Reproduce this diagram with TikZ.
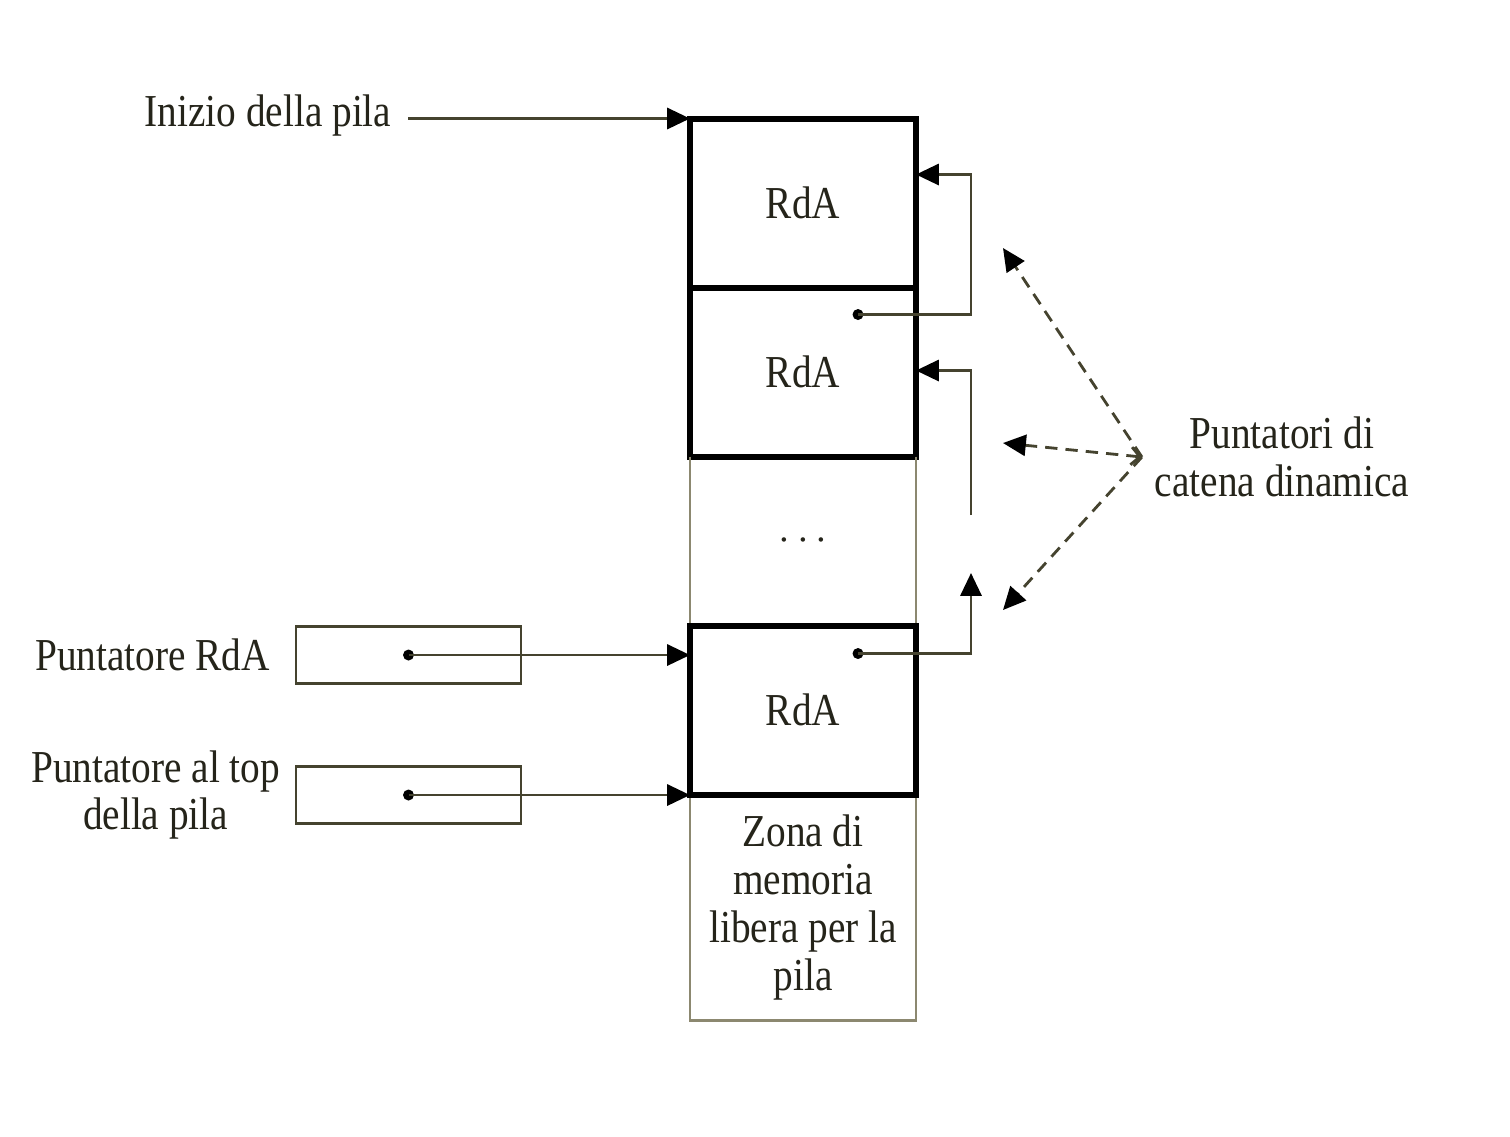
\documentclass[tikz,border=0pt]{standalone}
\usepackage{fontspec}
\setmainfont{Liberation Serif}[FakeStretch=0.86]
\usetikzlibrary{positioning,arrows.meta}
\definecolor{inkcol}{HTML}{25241A}
\definecolor{framecol}{HTML}{8C8870}
\definecolor{linecol}{HTML}{45432F}
\tikzset{
    every node/.style={font=\fontsize{13}{13.6}\selectfont, text=inkcol, outer sep=0pt},
    rda/.style={draw=black, line width=1.7pt, minimum width=2.26cm, minimum height=1.69cm, inner sep=0pt},
    zone/.style={minimum width=2.26cm, inner sep=0pt, align=center},
    frame/.style={draw=framecol, line width=0.8pt},
    ptrbox/.style={draw=linecol, line width=0.75pt, minimum width=2.25cm, minimum height=0.57cm, inner sep=0pt},
    lbl/.style={inner sep=0pt, align=center},
    tip/.style={-{Triangle[length=6.5pt, width=6pt, color=black]}},
    ptr/.style={draw=linecol, line width=0.8pt, tip},
    dyn/.style={ptr, dash pattern=on 3.5pt off 2.3pt},
    dot/.style={fill=black}
}
\begin{document}
\begin{tikzpicture}
    \useasboundingbox[fill=white] (0,0) rectangle (15.1,-11.36);
    \node[rda] (rda1) at (8.03,-2.03) {RdA};
    \node[rda, below=0pt of rda1] (rda2) {RdA};
    \node[zone, minimum height=1.69cm, below=0pt of rda2] (gap) {$\cdots$};
    \node[rda, below=0pt of gap] (rda3) {RdA};
    \node[zone, minimum height=2.26cm, below=0pt of rda3] (free) {Zona di\\memoria\\libera per la\\pila};
    \draw[frame] (rda2.south west) -- (rda3.north west);
    \draw[frame] (rda2.south east) -- (rda3.north east);
    \draw[frame] (rda3.south west) -- (free.south west) -- (free.south east) -- (rda3.south east);
    \draw[line width=1.7pt] (rda1.north west) rectangle (rda1.south east);
    \draw[line width=1.7pt] (rda3.north west) rectangle (rda3.south east);

    \node[lbl] (inizio) at (2.68,-1.15) {Inizio della pila};
    \draw[ptr] ([xshift=0.17cm]inizio.east |- rda1.north west) -- (rda1.north west);

    \node[ptrbox] (prA) at (4.085,-6.55) {};
    \node[ptrbox] (prTop) at (4.085,-7.95) {};
    \node[lbl, left=0.26cm of prA] (lprA) {Puntatore RdA};
    \node[lbl, left=0.16cm of prTop] (lprTop) {Puntatore al top\\della pila};
    \fill[dot] (prA.center) circle (0.055);
    \fill[dot] (prTop.center) circle (0.055);
    \draw[ptr] (prA.center) -- (prA.center -| rda3.west);
    \draw[ptr] (prTop.center) -- (prTop.center -| rda3.south west);

    \coordinate (d2) at ([xshift=-0.58cm, yshift=-0.27cm]rda2.north east);
    \coordinate (d3) at ([xshift=-0.58cm, yshift=-0.28cm]rda3.north east);
    \coordinate (c2) at (9.71,-5.15);
    \coordinate (c3) at (9.71,-5.73);
    \fill[dot] (d2) circle (0.055);
    \fill[dot] (d3) circle (0.055);
    \draw[ptr] (d2) -- ++(1.13,0) |- ([yshift=-0.56cm]rda1.north east);
    \draw[ptr] (c2) |- ([yshift=-0.83cm]rda2.north east);
    \draw[ptr] (d3) -| (c3);

    \node[lbl] (dyn) at (12.82,-4.57) {Puntatori di\\catena dinamica};
    \coordinate (hub) at ([xshift=-0.13cm]dyn.west);
    \coordinate (t1) at (10.03,-2.48);
    \coordinate (t2) at (10.03,-4.43);
    \coordinate (t3) at (10.03,-6.10);
    \draw[dyn] (hub) -- (t1);
    \draw[dyn, {Straight Barb[length=2.5pt, width=5pt]}-{Triangle[length=6.5pt, width=6pt, color=black]}] (hub) -- (t2);
    \draw[dyn] (hub) -- (t3);
\end{tikzpicture}
\end{document}
